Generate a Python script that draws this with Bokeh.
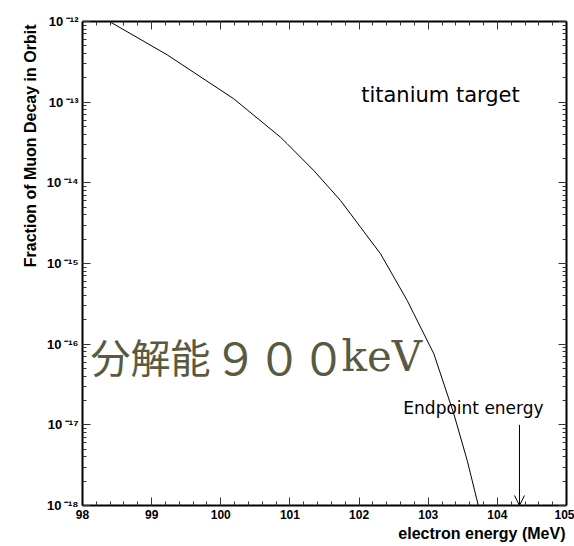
from bokeh.plotting import figure
from bokeh.models import (Range1d, LinearAxis, LogAxis, SingleIntervalTicker, LogTicker,
                          Label, Title, Arrow, OpenHead, CustomJSTickFormatter)
from bokeh.embed import file_html
from bokeh.resources import INLINE

# ---- data ----
energy = [98.39, 99.225, 100.188, 100.864, 100.961, 101.345, 101.732, 102.021,
          102.310, 102.696, 102.792, 103.081, 103.370, 103.564, 103.725]
fraction = [1.0e-12, 3.86e-13, 1.10e-13, 3.68e-14, 3.05e-14, 1.42e-14, 6.04e-15, 2.82e-15,
            1.32e-15, 3.48e-16, 2.38e-16, 7.60e-17, 1.37e-17, 3.61e-18, 1.0e-18]
x_ticks = [98, 99, 100, 101, 102, 103, 104, 105]
y_tick_labels = {"-12": "10\u2009\u207b\u00b9\u00b2", "-13": "10\u2009\u207b\u00b9\u00b3",
                 "-14": "10\u2009\u207b\u00b9\u2074", "-15": "10\u2009\u207b\u00b9\u2075",
                 "-16": "10\u2009\u207b\u00b9\u2076", "-17": "10\u2009\u207b\u00b9\u2077",
                 "-18": "10\u2009\u207b\u00b9\u2078"}
endpoint_energy = [104.32]
arrow_from = [1.0e-17]
arrow_to = [1.0e-18]

FONT = "Liberation Sans"

p = figure(width=574, height=546, output_backend="svg", toolbar_location=None,
           y_axis_type="log", x_range=Range1d(98, 105), y_range=Range1d(1e-18, 1e-12),
           min_border_left=82, min_border_right=8, min_border_top=21, min_border_bottom=41)
p.outline_line_color = None
p.grid.visible = False
p.background_fill_color = "white"
p.border_fill_color = "white"


def style(ax, show_labels=False):
    ax.axis_line_width = 2
    ax.axis_line_color = "black"
    ax.major_tick_in = 8
    ax.major_tick_out = 0
    ax.minor_tick_in = 4
    ax.minor_tick_out = 0
    ax.major_tick_line_color = "#333333"
    ax.minor_tick_line_color = "#333333"
    if show_labels:
        ax.major_label_text_font = FONT
        ax.major_label_text_font_style = "bold"
        ax.major_label_text_font_size = "12px"
        ax.major_label_text_color = "black"
        ax.major_label_standoff = 4
    else:
        ax.major_label_text_font_size = "1px"
        ax.major_label_text_alpha = 0
        ax.major_label_standoff = 0


xb = p.xaxis[0]
xb.ticker = SingleIntervalTicker(interval=1, num_minor_ticks=5)
style(xb, True)

yl = p.yaxis[0]
yl.ticker = LogTicker(num_minor_ticks=10)
style(yl, True)
yl.major_label_text_font_size = "13px"
yl.major_label_standoff = 4
yl.formatter = CustomJSTickFormatter(args=dict(labels=y_tick_labels), code="""
const e = String(Math.round(Math.log10(tick)));
return (e in labels) ? labels[e] : "";
""")

xt = LinearAxis(ticker=SingleIntervalTicker(interval=1, num_minor_ticks=5))
style(xt, False)
p.add_layout(xt, "above")

yr = LogAxis(ticker=LogTicker(num_minor_ticks=10))
style(yr, False)
p.add_layout(yr, "right")

# curve
p.line(energy, fraction, line_color="black", line_width=1)

# axis titles (panel titles so they are not clipped)
p.add_layout(Title(text="electron energy (MeV)", align="right", text_font=FONT,
                   text_font_style="bold", text_font_size="16px", text_color="black",
                   standoff=2, offset=1), "below")
p.add_layout(Title(text="Fraction of Muon Decay in Orbit", align="right", text_font=FONT,
                   text_font_style="bold", text_font_size="16px", text_color="black",
                   standoff=9, offset=3), "left")

# annotations
p.add_layout(Label(x=102.03, y=1.21e-13, text="titanium target", text_align="left",
                   text_baseline="middle", text_font="DejaVu Sans", text_font_size="21px",
                   text_color="black"))
p.add_layout(Label(x=102.64, y=1.64e-17, text="Endpoint energy", text_align="left",
                   text_baseline="middle", text_font="DejaVu Sans", text_font_size="17px",
                   text_color="black"))
p.add_layout(Arrow(x_start=endpoint_energy[0], y_start=arrow_from[0],
                   x_end=endpoint_energy[0], y_end=arrow_to[0],
                   line_color="black", line_width=1,
                   end=OpenHead(size=10, line_color="black", line_width=1)))

JP = "#5a5942"
p.add_layout(Label(x=98, y=7.1e-17, x_offset=8, text="分解能", text_align="left",
                   text_baseline="middle", text_font="Noto Sans CJK JP",
                   text_font_size="40px", text_color=JP))
p.add_layout(Label(x=98, y=7.1e-17, x_offset=131, text="９００", text_align="left",
                   text_baseline="middle", text_font="Noto Sans CJK JP",
                   text_font_size="44px", text_color=JP))
p.add_layout(Label(x=98, y=7.1e-17, x_offset=259, text="keV", text_align="left",
                   text_baseline="middle", text_font="DejaVu Serif",
                   text_font_size="42px", text_color=JP))

open("out.html", "w").write(file_html(p, INLINE))
